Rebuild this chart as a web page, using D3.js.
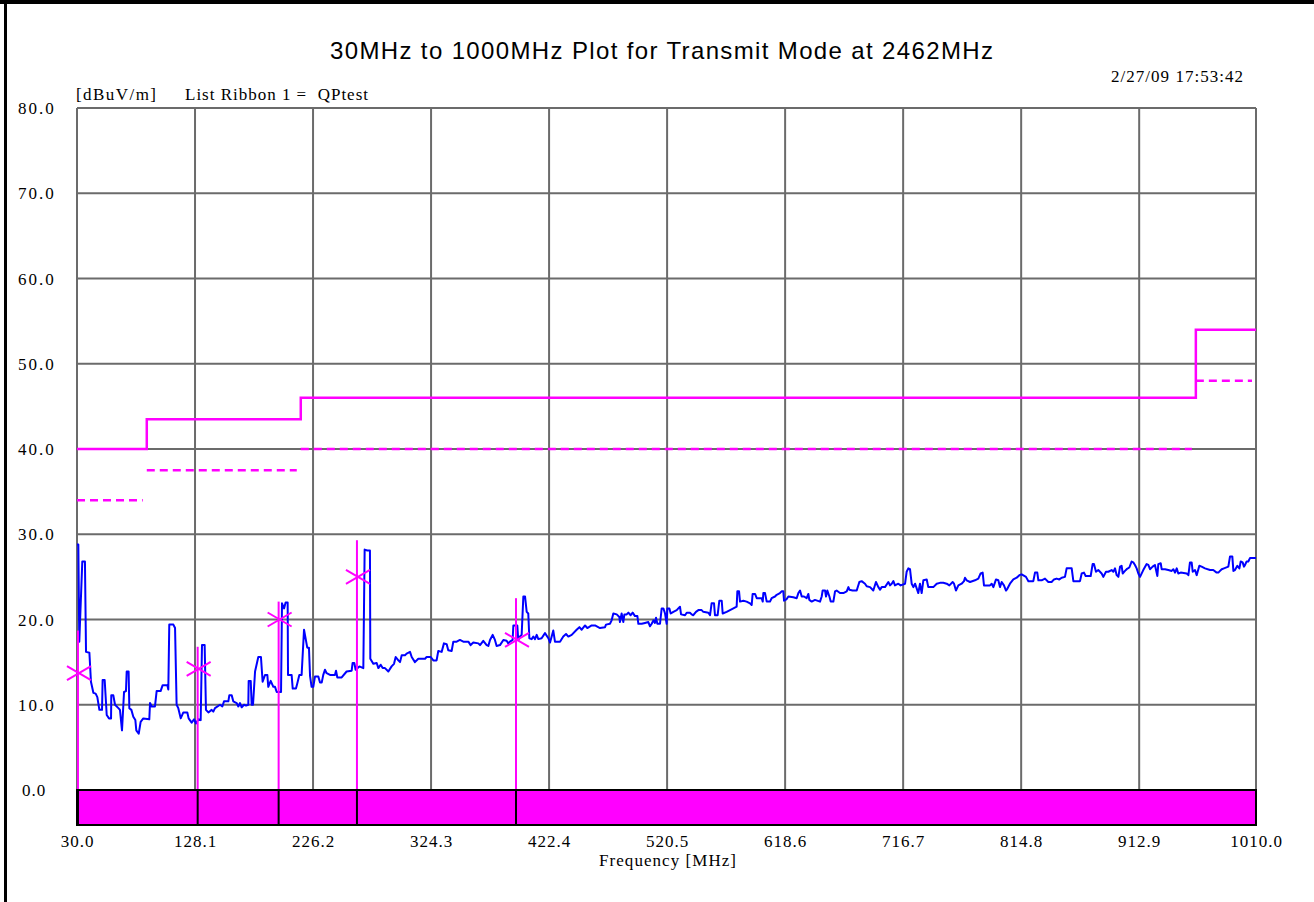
<!DOCTYPE html>
<html>
<head>
<meta charset="utf-8">
<script src="https://cdn.jsdelivr.net/npm/d3@7/dist/d3.min.js"></script>
<style>
  html, body { margin: 0; padding: 0; background: #fff; }
  svg { display: block; }
  .serif { font-family: "Liberation Serif", "Times New Roman", serif; fill: #000; }
</style>
</head>
<body>
<svg id="chart" width="1314" height="902"></svg>
<script>
// ---------------- DATA ----------------
const titleText = "30MHz to 1000MHz Plot for Transmit Mode at 2462MHz";
const timestampText = "2/27/09 17:53:42";
const unitText = "[dBuV/m]";
const ribbonText = "List Ribbon 1 =  QPtest";
const xAxisTitle = "Frequency [MHz]";

const xTickValues = [30.0, 128.1, 226.2, 324.3, 422.4, 520.5, 618.6, 716.7, 814.8, 912.9, 1010.0];
const yTickValues = [0, 10, 20, 30, 40, 50, 60, 70, 80];

// Limit line (solid) and margin line (dashed), frequency MHz / level dBuV/m
const limitFreq  = [30, 88, 88, 216, 216, 960, 960, 1010];
const limitLevel = [40, 40, 43.5, 43.5, 46, 46, 54, 54];
const marginSegments = [
  [30, 88, 34],
  [88, 216, 37.5],
  [216, 960, 40],
  [960, 1010, 48]
];

// Markers: frequency, QP level (cross), peak level (top of stem)
const markerFreq  = [30.8, 130.3, 197.6, 262.7, 394.9];
const markerQP    = [13.7, 14.2, 20.0, 25.0, 17.6];
const markerPeak  = [18.7, 16.8, 22.1, 29.3, 22.5];

// Measured trace [frequency MHz, level dBuV/m]
const trace = [
 [30.0,28.8],[31.1,28.8],[31.9,17.4],[34.4,26.8],[36.6,26.8],[37.5,16.2],[40.3,16.1],[41.6,12.7],
 [43.6,11.4],[45.5,11.3],[46.9,10.9],[48.6,9.4],[50.8,9.4],[51.3,12.9],[53.0,12.9],[54.7,8.8],
 [56.6,8.4],[58.3,8.4],[58.5,11.1],[60.2,11.1],[61.6,10.0],[64.4,9.6],[65.7,9.4],[67.4,7.0],
 [69.1,11.5],[70.7,11.6],[71.3,13.9],[72.9,13.9],[73.5,9.6],[75.2,9.4],[76.8,8.6],[78.5,8.2],
 [79.3,7.0],[81.3,6.6],[82.9,8.0],[85.1,8.4],[90.1,8.3],[90.7,10.2],[92.1,9.8],[94.8,9.8],
 [96.2,11.6],[99.5,11.6],[101.2,12.3],[105.1,12.3],[105.9,11.8],[106.7,19.4],[110.1,19.4],[111.5,19.0],
 [112.8,10.0],[114.2,9.6],[116.2,8.4],[118.4,9.1],[121.7,9.1],[122.8,8.4],[125.3,7.9],[127.3,8.3],
 [128.9,7.8],[130.9,8.3],[132.8,8.2],[133.9,17.0],[136.1,17.0],[137.2,9.4],[139.2,9.1],[141.9,9.4],
 [143.3,9.2],[144.7,9.6],[148.9,10.0],[150.8,9.8],[152.2,10.4],[155.8,10.4],[156.6,11.1],[158.6,11.1],
 [159.9,10.4],[162.7,10.2],[164.1,9.8],[165.5,10.2],[166.9,9.7],[168.8,10.0],[170.5,9.9],[172.4,10.0],
 [172.7,12.8],[174.4,12.8],[175.2,10.0],[176.3,10.0],[178.0,13.9],[180.7,15.6],[182.9,15.6],[184.3,12.7],
 [186.3,13.5],[188.2,13.5],[189.0,12.1],[191.0,12.8],[193.2,12.1],[194.6,12.1],[196.0,11.5],[199.6,11.5],
 [200.4,21.9],[202.1,21.3],[203.4,22.0],[205.1,22.0],[205.4,13.5],[208.4,13.5],[209.3,11.9],[212.0,11.9],
 [213.1,12.5],[214.8,13.5],[216.7,13.5],
 [218.7,18.8],[221.4,16.7],[222.8,16.7],[223.7,13.4],[225.0,12.1],[226.4,12.1],[227.8,13.3],[230.6,13.3],
 [232.0,12.6],[233.4,12.6],[234.7,13.5],[236.1,14.1],[237.5,13.7],[240.3,13.5],[244.4,13.5],[245.3,14.0],
 [246.4,13.2],[250.0,13.2],[254.1,13.9],[258.3,14.0],[259.1,14.9],[260.5,14.9],[261.6,14.1],[264.7,14.5],
 [268.0,14.3],[269.1,28.2],[271.3,28.1],[273.5,28.1],[273.8,15.4],[276.3,14.8],[279.1,14.9],[280.5,14.3],
 [282.4,14.7],[284.1,14.3],[286.0,14.3],[288.8,13.9],[291.5,14.5],[293.5,14.8],[294.9,15.6],[297.1,15.2],
 [298.5,15.0],[299.9,15.8],[302.6,15.8],[304.0,16.0],[306.8,16.2],[308.2,15.6],[310.9,15.0],[313.7,15.4],
 [319.3,15.4],[320.6,15.6],[324.0,15.6],[326.2,15.2],[328.9,15.2],[330.3,16.3],[333.1,16.2],[335.0,17.2],
 [337.3,17.1],[338.6,16.4],[341.4,16.3],[342.8,17.4],[345.6,17.4],[348.3,17.6],[351.1,17.4],[355.3,17.4],
 [357.2,17.0],[359.4,17.3],[363.6,17.2],[365.0,17.0],[367.7,17.5],[370.5,17.0],[371.9,16.9],[373.3,17.6],
 [375.5,18.2],[377.4,17.6],[378.8,16.9],[381.6,17.0],[384.4,17.6],[387.1,17.5],[388.5,17.2],[389.9,17.4],
 [392.1,17.6],[392.7,19.3],[396.0,19.3],[396.8,17.6],[398.2,18.0],[399.6,18.2],[401.0,22.7],[402.4,22.7],
 [403.8,20.9],[405.1,20.7],[406.0,17.8],[407.9,17.7],[409.3,18.0],[410.7,17.7],[412.1,18.2],[413.5,17.7],
 [416.2,17.8],[419.0,18.4],[421.8,17.8],[423.2,17.3],[425.9,18.7],[427.3,17.4],[431.5,17.4],[434.2,18.0],
 [436.5,18.3],[438.4,18.0],[441.2,18.2],[445.3,18.8],[447.6,19.1],[449.5,18.8],[452.3,19.3],[454.2,19.0],
 [457.8,19.3],[460.6,19.3],[464.7,19.0],
 [468.9,19.1],[469.7,19.4],[473.0,19.5],[474.4,19.9],[475.8,20.7],[478.6,20.6],[480.8,20.3],[481.3,19.7],
 [482.7,20.7],[484.1,19.7],[485.0,20.6],[486.9,20.6],[488.3,20.8],[490.2,20.5],[491.9,20.8],[493.8,20.4],
 [495.8,20.4],[496.6,19.5],[499.4,19.5],[502.1,19.6],[504.9,19.7],[506.3,19.2],[507.7,19.5],[509.1,19.9],
 [510.4,19.6],[511.3,20.2],[512.4,19.5],[514.6,19.5],[516.0,21.3],[517.4,21.3],[518.8,20.7],[520.1,19.5],
 [520.7,21.3],[522.4,21.3],[523.5,20.7],[525.7,20.9],[528.5,21.1],[529.8,21.3],[531.2,21.5],[532.1,20.6],
 [535.4,20.5],[536.8,20.8],[539.5,20.8],[540.9,20.6],[542.3,20.5],[544.5,20.9],[546.5,21.1],[549.2,21.1],
 [550.6,20.9],[554.8,20.8],[556.2,20.5],[557.5,21.9],[559.5,21.9],[560.3,20.5],[562.5,20.5],[563.9,22.2],
 [565.9,22.2],[566.7,20.7],[570.0,20.9],[572.8,21.1],[575.6,21.3],[578.3,21.5],[578.9,23.3],[580.3,23.3],
 [581.1,22.1],[583.9,22.2],[586.6,22.1],[589.4,21.9],[590.8,21.7],[591.6,23.0],[593.6,23.0],[595.0,22.5],
 [599.1,22.5],[600.0,22.1],[600.5,23.1],[601.9,23.1],[603.3,22.1],[606.0,22.1],[607.4,22.5],[610.2,22.7],
 [611.6,22.9],[614.3,23.1],[615.7,23.3],[617.1,23.3],[617.7,22.2],[619.9,22.4],[621.3,22.7],[625.4,22.6],
 [628.2,22.5],[629.6,23.1],[631.0,23.4],[632.4,22.7],[634.3,22.7],[636.5,22.5],[637.9,23.0],[638.7,22.3],
 [640.7,22.1],[643.4,22.3],[647.6,22.1],[649.0,22.7],[649.8,23.4],[651.8,23.4],[652.6,22.7],[653.7,23.4],
 [655.4,22.7],[656.5,22.1],[658.7,22.1],[660.1,23.3],[661.4,23.4],[664.2,23.1],[667.0,23.1],[669.8,23.3],
 [671.2,23.8],[672.0,23.5],[674.7,23.4],[678.1,23.4],[680.3,24.4],[682.2,24.5],[685.0,24.2],[686.4,23.9],
 [689.2,23.8],[691.9,23.4],[694.1,24.4],[696.1,23.8],[697.5,23.5],[698.9,23.8],[701.6,23.8],[704.4,24.4],
 [705.8,24.0],[707.2,24.2],[708.6,24.5],[709.9,24.0],[712.7,24.2],[714.6,24.0],[718.3,24.2],[719.6,25.6],
 [721.0,26.0],[722.4,25.9],[723.8,24.2],[725.2,23.8],[726.6,24.2],[729.3,23.1],[730.7,24.2],[732.1,23.1],
 [733.5,24.6],[736.3,24.7],[737.6,23.8],[741.8,23.8],[744.6,24.2],[747.3,24.3],
 [750.1,24.3],[752.9,24.2],[755.1,24.0],[757.9,24.4],[759.0,24.2],[760.6,23.4],[762.6,24.0],[765.3,24.2],
 [767.3,24.5],[768.1,24.9],[769.5,24.6],[772.3,24.4],[776.4,24.6],[779.2,24.8],[781.1,25.4],[782.8,25.5],
 [783.9,24.0],[788.9,24.0],[790.3,24.2],[791.7,23.8],[793.9,24.7],[795.8,24.6],[797.2,23.8],[798.6,24.4],
 [800.5,24.0],[802.2,23.4],[803.3,23.6],[805.5,24.2],[808.3,24.7],[811.1,24.9],[813.3,25.2],[815.2,25.3],
 [818.8,25.0],[820.8,24.5],[824.9,24.5],[826.3,25.5],[828.2,25.5],[829.1,24.6],[831.8,24.6],[834.6,24.8],
 [837.4,24.4],[840.1,24.4],[842.1,24.7],[844.3,24.8],[846.5,24.7],[848.5,24.9],[851.2,25.0],[852.6,26.0],
 [856.8,26.0],[858.2,24.5],[863.7,24.5],[865.1,25.4],[867.0,25.5],[868.4,25.1],[872.6,25.1],[874.2,26.5],
 [875.3,26.5],[877.0,25.6],[878.9,25.8],[881.7,25.4],[883.1,25.0],[885.3,25.6],[887.2,25.6],[890.0,25.8],
 [891.4,25.6],[892.8,26.0],[894.2,25.2],[895.6,25.0],[897.0,26.2],[898.3,26.3],[899.2,25.4],[901.1,25.7],
 [902.5,25.9],[904.7,26.1],[906.6,26.8],[908.0,26.7],[909.4,26.4],[910.8,26.0],[912.2,25.4],[913.6,25.0],
 [916.3,25.8],[919.1,26.5],[920.5,26.4],[921.9,25.9],[924.1,26.2],[926.0,26.4],[928.0,25.1],[928.8,26.5],
 [930.8,26.6],[931.6,25.9],[934.4,25.9],[937.1,25.8],[939.9,25.7],[941.3,25.9],[942.7,25.5],[944.1,26.0],
 [945.4,25.4],[947.4,25.5],[952.4,25.4],[953.8,25.2],[955.1,26.7],[956.5,26.7],[957.4,25.6],[959.3,25.8],
 [960.7,25.2],[962.9,26.3],[964.8,26.2],[967.6,26.0],[971.8,25.8],[974.5,25.8],[977.3,25.5],[978.7,25.5],
 [980.1,25.7],[981.5,25.9],[983.4,26.0],[987.0,26.2],[988.4,27.4],[990.3,27.4],[991.2,25.7],[992.5,25.8],
 [994.5,26.3],[996.2,26.0],[997.3,26.8],[998.9,26.7],[1000.0,26.2],[1000.9,26.4],[1002.2,26.8],[1003.6,26.8],
 [1005.0,27.2],[1010.0,27.2]
];

// ---------------- DRAWING ----------------
const svg = d3.select("#chart");
const x = d3.scaleLinear().domain([30, 1010]).range([77, 1256]);
const y = d3.scaleLinear().domain([0, 80]).range([790, 108]);
const bandBottom = 825;
const MAG = "#FF00FF";
const GRID = "#6b6b6b";

// Frame borders (top and left)
svg.append("rect").attr("x", 0).attr("y", 0).attr("width", 1314).attr("height", 4).attr("fill", "#000");
svg.append("rect").attr("x", 4).attr("y", 0).attr("width", 3).attr("height", 902).attr("fill", "#000");

// Title and header texts
svg.append("text").attr("x", 661.5).attr("y", 58.5)
  .attr("text-anchor", "middle")
  .attr("font-family", "'Liberation Sans', Arial, sans-serif")
  .attr("font-size", 24)
  .attr("textLength", 663).attr("lengthAdjust", "spacing")
  .text(titleText);

svg.append("text").attr("class", "serif").attr("x", 1111).attr("y", 81.5)
  .attr("font-size", 17).attr("textLength", 132).attr("lengthAdjust", "spacing")
  .text(timestampText);

svg.append("text").attr("class", "serif").attr("x", 76).attr("y", 100)
  .attr("font-size", 17).attr("textLength", 80).attr("lengthAdjust", "spacing")
  .text(unitText);

svg.append("text").attr("class", "serif").attr("x", 185).attr("y", 100)
  .attr("font-size", 17).attr("textLength", 183).attr("lengthAdjust", "spacing")
  .attr("xml:space", "preserve").style("white-space", "pre")
  .text(ribbonText);

// Grid
const grid = svg.append("g");
grid.selectAll("line.v").data(xTickValues).join("line")
  .attr("x1", d => x(d)).attr("x2", d => x(d))
  .attr("y1", y(80)).attr("y2", y(0))
  .attr("stroke", GRID).attr("stroke-width", 2);
grid.selectAll("line.h").data(yTickValues).join("line")
  .attr("class", "h")
  .attr("x1", x(30)).attr("x2", x(1010))
  .attr("y1", d => y(d)).attr("y2", d => y(d))
  .attr("stroke", GRID).attr("stroke-width", 2);

// Limit line (solid)
const limitPts = limitFreq.map((f, i) => [f, limitLevel[i]]);
const lineGen = d3.line().x(d => x(d[0])).y(d => y(d[1]));
svg.append("path").datum(limitPts).attr("d", lineGen)
  .attr("fill", "none").attr("stroke", MAG).attr("stroke-width", 2.5);

// Margin line (dashed)
svg.append("g").selectAll("line").data(marginSegments).join("line")
  .attr("x1", d => x(d[0])).attr("x2", d => x(d[1]) - 4)
  .attr("y1", d => y(d[2])).attr("y2", d => y(d[2]))
  .attr("stroke", MAG).attr("stroke-width", 2.5).attr("stroke-dasharray", "8,5");

// Trace
svg.append("path").datum(trace).attr("d", lineGen)
  .attr("fill", "none").attr("stroke", "#0000FF").attr("stroke-width", 2)
  .attr("stroke-linejoin", "round");

// Markers
const markers = markerFreq.map((f, i) => ({ f, qp: markerQP[i], pk: markerPeak[i] }));
const mg = svg.append("g");
mg.selectAll("line.stem").data(markers).join("line")
  .attr("class", "stem")
  .attr("x1", d => x(d.f)).attr("x2", d => x(d.f))
  .attr("y1", y(0)).attr("y2", d => y(d.pk))
  .attr("stroke", MAG).attr("stroke-width", 2);
mg.selectAll("path.cross").data(markers).join("path")
  .attr("class", "cross")
  .attr("d", d => {
    const cx = x(d.f) + 1, cy = y(d.qp);
    return `M${cx-12},${cy-7}L${cx+12},${cy+7}M${cx-12},${cy+7}L${cx+12},${cy-7}`;
  })
  .attr("stroke", MAG).attr("stroke-width", 2).attr("fill", "none");

// Ribbon band
svg.append("rect")
  .attr("x", x(30)).attr("y", y(0))
  .attr("width", x(1010) - x(30)).attr("height", bandBottom - y(0))
  .attr("fill", MAG).attr("stroke", "#000").attr("stroke-width", 2);
svg.append("g").selectAll("line").data(markerFreq).join("line")
  .attr("x1", d => x(d)).attr("x2", d => x(d))
  .attr("y1", y(0)).attr("y2", bandBottom)
  .attr("stroke", "#000").attr("stroke-width", 2);

// X axis labels
const xAxis = d3.axisBottom(x).tickValues(xTickValues).tickSize(0).tickFormat(d => d.toFixed(1));
const xg = svg.append("g").attr("transform", "translate(0,847)").call(xAxis);
xg.select(".domain").remove();
xg.selectAll("text")
  .attr("y", 0).attr("dy", 0)
  .attr("font-family", "'Liberation Serif', 'Times New Roman', serif")
  .attr("font-size", 17).attr("fill", "#000")
  .style("letter-spacing", "1px");

// Y axis labels
const yAxis = d3.axisLeft(y).tickValues(yTickValues).tickSize(0).tickFormat(d => d.toFixed(1));
const yg = svg.append("g").attr("transform", "translate(0,0)").call(yAxis);
yg.select(".domain").remove();
yg.selectAll("text")
  .attr("x", d => d === 0 ? 22 : 18).attr("dy", 0)
  .attr("transform", "translate(0,5.5)")
  .attr("text-anchor", "start")
  .attr("font-family", "'Liberation Serif', 'Times New Roman', serif")
  .attr("font-size", 17).attr("fill", "#000")
  .style("letter-spacing", d => d === 0 ? "1px" : "2px");

// X axis title
svg.append("text").attr("class", "serif").attr("x", 599).attr("y", 866)
  .attr("font-size", 17).attr("textLength", 137).attr("lengthAdjust", "spacing")
  .text(xAxisTitle);
</script>
</body>
</html>
